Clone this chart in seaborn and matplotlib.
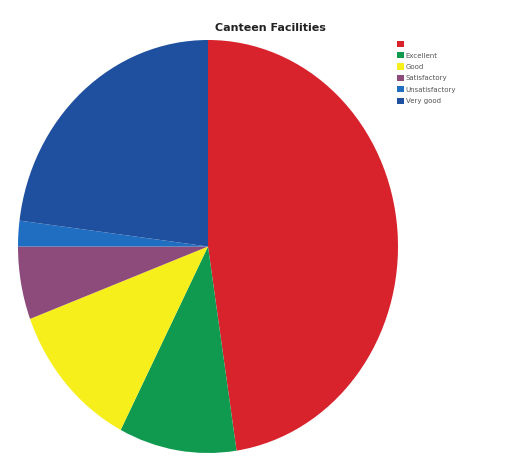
import matplotlib
matplotlib.use("Agg")
import matplotlib.pyplot as plt
import seaborn as sns

labels = ["", "Excellent", "Good", "Satisfactory", "Unsatisfactory", "Very good"]
shares = [47.6, 10.0, 11.7, 5.7, 2.0, 23.0]
colors = ["#d8222c", "#0f9a50", "#f6ef1c", "#8d4b7c", "#1f6ec2", "#1f509f"]

sns.set_theme(style="white")
plt.rcParams["font.family"] = ["DejaVu Sans"]

fig = plt.figure(figsize=(5.2, 4.59), dpi=100)
ax = fig.add_axes([18 / 520, 6 / 459, 380 / 520, 413 / 459])
wedges, _ = ax.pie(shares, colors=colors, startangle=90, counterclock=False,
                   wedgeprops={"linewidth": 0})
ax.set_aspect("auto")
ax.set_xlim(-1, 1)
ax.set_ylim(-1, 1)

fig.text(270 / 520, 1 - 28 / 459, "Canteen Facilities", ha="center", va="center",
         fontsize=8, color="#222222", fontweight="semibold")
fig.legend(wedges, labels, loc="upper left", bbox_to_anchor=(394 / 520, 1 - 38 / 459),
           frameon=False, fontsize=5, handlelength=1.0, handleheight=1.0,
           labelspacing=0.7, handletextpad=0.3, borderaxespad=0,
           labelcolor="#555555")

fig.savefig("out.png", dpi=100)
